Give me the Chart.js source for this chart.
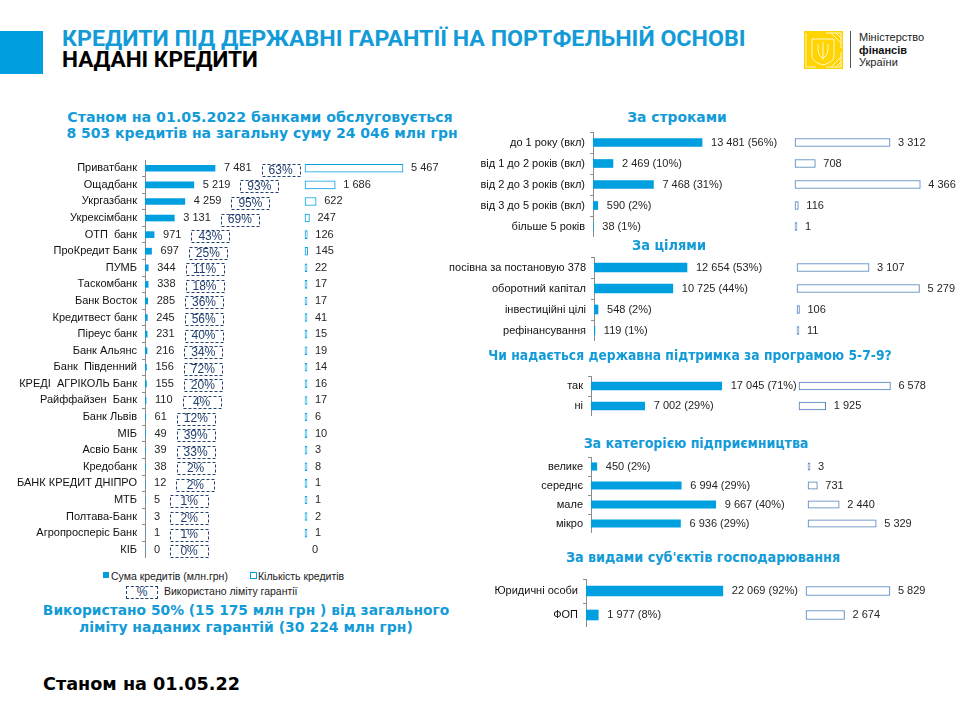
<!DOCTYPE html>
<html lang="uk">
<head>
<meta charset="utf-8">
<title>Кредити під державні гарантії на портфельній основі</title>
<script src="https://cdn.jsdelivr.net/npm/chart.js@4.4.1/dist/chart.umd.min.js"></script>
<style>
  html, body { margin: 0; padding: 0; background: #fff; }
  body { width: 968px; height: 726px; position: relative; overflow: hidden; font-family: "Liberation Sans", Arial, sans-serif; }
  .box { position: absolute; }
  .t { position: absolute; white-space: nowrap; line-height: 1; transform: translate(-50%, -50%); }
  .tl { position: absolute; white-space: nowrap; line-height: 1; transform: translateY(-50%); transform-origin: left center; }
  .h { font-family: "DejaVu Sans", sans-serif; font-weight: bold; color: #139BD8; font-size: 14px; }
  .lg { font-size: 10.5px; color: #1a1a1a; }
</style>
</head>
<body>

<div class="box" style="left:0;top:31px;width:43px;height:43px;background:#009FE0"></div>
<div class="tl" data-w="683" style="left:62px;top:39px;font-family:Roboto;font-weight:bold;font-size:22px;color:#139BD8">КРЕДИТИ ПІД ДЕРЖАВНІ ГАРАНТІЇ НА ПОРТФЕЛЬНІЙ ОСНОВІ</div>
<div class="tl" data-w="196" style="left:62px;top:60px;font-family:Roboto;font-weight:bold;font-size:22px;color:#000">НАДАНІ КРЕДИТИ</div>

<svg class="box" style="left:804px;top:31px" width="39" height="38" viewBox="0 0 39 38">
  <rect width="39" height="38" fill="#FFD400"/>
  <g stroke="#fff" stroke-width="0.8" fill="none">
    <path d="M22 2 L37 2 L37 17"/><path d="M27 2 L37 12"/><path d="M32 2 L37 7"/>
    <path d="M37 21 L37 36 L22 36"/><path d="M37 26 L27 36"/><path d="M37 31 L32 36"/>
    <path d="M2 2 L2 36 L12 36"/>
    <path d="M8 8 L30 8 L30 25 Q30 31 19 34 Q8 31 8 25 Z"/>
    <path d="M19 11 L19 29 M14 13 Q13 25 19 27 Q25 25 24 13"/>
  </g>
</svg>
<div class="box" style="left:850px;top:31px;width:1px;height:37px;background:#555"></div>
<div class="tl" style="left:859px;top:37px;font-size:11px;color:#222">Міністерство</div>
<div class="tl" style="left:859px;top:50px;font-size:11px;font-weight:bold;color:#111">фінансів</div>
<div class="tl" style="left:859px;top:62px;font-size:11px;color:#222">України</div>

<div class="t h" data-w="385" style="left:260px;top:117px">Станом на 01.05.2022 банками обслуговується</div>
<div class="t h" data-w="391" style="left:262px;top:133px">8 503 кредитів на загальну суму 24 046 млн грн</div>

<div class="box" id="pBanks"><canvas></canvas></div>

<div class="box" style="left:103px;top:572px;width:6px;height:6px;background:#009FE0"></div>
<div class="tl lg" style="left:111px;top:576px">Сума кредитів (млн.грн)</div>
<div class="box" style="left:250px;top:572px;width:5px;height:5px;border:1px solid #009FE0"></div>
<div class="tl lg" style="left:258px;top:576px">Кількість кредитів</div>
<div class="box" style="left:126px;top:586px;width:30px;height:11px;border:1px dashed #24406E"></div>
<div class="t" style="left:142px;top:592px;font-size:12px;color:#24406E">%</div>
<div class="tl lg" style="left:164px;top:591px">Використано ліміту гарантії</div>

<div class="t h" data-w="406" style="left:246px;top:610px;font-size:14.5px">Використано 50% (15 175 млн грн ) від загального</div>
<div class="t h" data-w="334" style="left:246px;top:627px;font-size:14.5px">ліміту наданих гарантій (30 224 млн грн)</div>

<div class="tl" data-w="197" style="left:43px;top:684px;font-family:'DejaVu Sans';font-weight:bold;font-size:17px;color:#000">Станом на 01.05.22</div>

<div class="t h" data-w="100" style="left:677px;top:117px">За строками</div>
<div class="box" id="pTerm"><canvas></canvas></div>
<div class="t h" data-w="74" style="left:669px;top:245px">За цілями</div>
<div class="box" id="pGoal"><canvas></canvas></div>
<div class="t h" data-w="403" style="left:690px;top:355px">Чи надається державна підтримка за програмою 5-7-9?</div>
<div class="box" id="pProg"><canvas></canvas></div>
<div class="t h" data-w="225" style="left:696px;top:443px">За категорією підприємництва</div>
<div class="box" id="pCat"><canvas></canvas></div>
<div class="t h" data-w="274" style="left:703px;top:557px">За видами суб'єктів господарювання</div>
<div class="box" id="pType"><canvas></canvas></div>

<script>
// банки
const banks = ['Приватбанк', 'Ощадбанк', 'Укргазбанк', 'Укрексімбанк', 'ОТП  банк', 'ПроКредит Банк', 'ПУМБ',
  'Таскомбанк', 'Банк Восток', 'Кредитвест банк', 'Піреус банк', 'Банк Альянс', 'Банк  Південний',
  'КРЕДІ  АГРІКОЛЬ Банк', 'Райффайзен  Банк', 'Банк Львів', 'МІБ', 'Асвіо Банк', 'Кредобанк',
  'БАНК КРЕДИТ ДНІПРО', 'МТБ', 'Полтава-Банк', 'Агропросперіс Банк', 'КІБ'];
const bankAmount = [7481, 5219, 4259, 3131, 971, 697, 344, 338, 285, 245, 231, 216, 156, 155, 110, 61, 49, 39, 38, 12, 5, 3, 1, 0];
const bankCount = [5467, 1686, 622, 247, 126, 145, 22, 17, 17, 41, 15, 19, 14, 16, 17, 6, 10, 3, 8, 1, 1, 2, 1, 0];
const bankLimitUsed = [63, 93, 95, 69, 43, 25, 11, 18, 36, 56, 40, 34, 72, 20, 4, 12, 39, 33, 2, 2, 1, 2, 1, 0];

// за строками
const termLabels = ['до 1 року (вкл)', 'від 1 до 2 років (вкл)', 'від 2 до 3 років (вкл)', 'від 3 до 5 років (вкл)', 'більше 5 років'];
const termAmount = [13481, 2469, 7468, 590, 38];
const termShare = [56, 10, 31, 2, 1];
const termCount = [3312, 708, 4366, 116, 1];

// за цілями
const goalLabels = ['посівна за постановую 378', 'оборотний капітал', 'інвестиційні цілі', 'рефінансування'];
const goalAmount = [12654, 10725, 548, 119];
const goalShare = [53, 44, 2, 1];
const goalCount = [3107, 5279, 106, 11];

// програма 5-7-9
const progLabels = ['так', 'ні'];
const progAmount = [17045, 7002];
const progShare = [71, 29];
const progCount = [6578, 1925];

// категорія підприємництва
const catLabels = ['велике', 'середнє', 'мале', 'мікро'];
const catAmount = [450, 6994, 9667, 6936];
const catShare = [2, 29, 40, 29];
const catCount = [3, 731, 2440, 5329];

// види суб'єктів
const typeLabels = ['Юридичні особи', 'ФОП'];
const typeAmount = [22069, 1977];
const typeShare = [92, 8];
const typeCount = [5829, 2674];

const BLUE = '#009FE0';
const NAVY = '#24406E';
const fmt = v => String(v).replace(/\B(?=(\d{3})+(?!\d))/g, ' ');

// fit headings to the widths in the picture
document.querySelectorAll('[data-w]').forEach(el => {
  const k = +el.dataset.w / el.offsetWidth;
  const base = el.classList.contains('tl') ? 'translateY(-50%)' : 'translate(-50%, -50%)';
  el.style.transform = base + ' scaleX(' + k.toFixed(3) + ')';
});

// value labels + dashed "limit used" boxes
const barLabels = {
  id: 'barLabels',
  afterDatasetsDraw(chart, args, o) {
    const ctx = chart.ctx;
    const am = chart.getDatasetMeta(0).data;
    const cn = chart.getDatasetMeta(1).data;
    const font = o.size + 'px "Liberation Sans", Arial, sans-serif';
    ctx.save();
    ctx.textBaseline = 'middle';
    am.forEach((bar, i) => {
      const t = o.amountText(i);
      ctx.font = font;
      ctx.fillStyle = '#262626';
      ctx.textAlign = 'left';
      ctx.fillText(t, bar.x + 9, bar.y);
      if (o.pct) {
        const bx = bar.x + 9 + ctx.measureText(t).width + 10;
        const by = bar.y + 1.5;
        ctx.strokeStyle = NAVY;
        ctx.lineWidth = 1;
        ctx.setLineDash([3, 2]);
        ctx.strokeRect(Math.round(bx) + 0.5, Math.round(by - 6) + 0.5, 38, 12);
        ctx.setLineDash([]);
        ctx.font = '12px "Liberation Sans", Arial, sans-serif';
        ctx.fillStyle = NAVY;
        ctx.textAlign = 'center';
        ctx.fillText(o.pct[i] + '%', bx + 19, by + 0.5);
      }
    });
    ctx.font = font;
    ctx.fillStyle = '#262626';
    ctx.textAlign = 'left';
    cn.forEach((bar, i) => {
      ctx.fillText(fmt(chart.data.datasets[1].data[i]), bar.x + 8, bar.y);
    });
    ctx.restore();
  }
};

function panel(id, p) {
  const box = document.getElementById(id);
  box.style.left = p.left + 'px';
  box.style.top = p.top + 'px';
  box.style.width = (p.right - p.left) + 'px';
  box.style.height = p.height + 'px';
  const w = p.right - p.axis;
  new Chart(box.querySelector('canvas'), {
    type: 'bar',
    data: {
      labels: p.labels,
      datasets: [
        { label: 'Сума кредитів (млн.грн)', data: p.amount, xAxisID: 'xa', grouped: false,
          backgroundColor: BLUE, barThickness: p.bar[0] },
        { label: 'Кількість кредитів', data: p.count, xAxisID: 'xc', grouped: false,
          backgroundColor: '#fff', borderColor: c => c.raw ? p.outline : 'rgba(0,0,0,0)',
          borderWidth: 1, borderSkipped: false, minBarLength: 2, barThickness: p.bar[1] }
      ]
    },
    options: {
      indexAxis: 'y',
      responsive: true,
      maintainAspectRatio: false,
      animation: false,
      layout: { padding: 0 },
      scales: {
        y: {
          afterFit: s => { s.width = p.axis - p.left; s.paddingTop = 0; s.paddingBottom = 0; },
          grid: { drawOnChartArea: false, tickLength: 3, color: '#8c8c8c', offset: true },
          border: { color: '#8c8c8c' },
          ticks: { padding: 5, color: '#111', font: { family: 'Liberation Sans', size: p.font } }
        },
        xa: { type: 'linear', display: false, min: 0, max: w / p.ka },
        xc: { type: 'linear', display: false, min: -(p.cStart - p.axis) / p.kc, max: (p.right - p.cStart) / p.kc }
      },
      plugins: {
        legend: { display: false },
        tooltip: { enabled: false },
        barLabels: { size: p.font, amountText: p.amountText, pct: p.pct }
      }
    },
    plugins: [barLabels]
  });
}

const share = (a, s) => i => fmt(a[i]) + ' (' + s[i] + '%)';

panel('pBanks', { labels: banks, amount: bankAmount, count: bankCount, pct: bankLimitUsed,
  amountText: i => fmt(bankAmount[i]),
  left: 0, top: 160, height: 398, axis: 145, right: 470, ka: 0.00936, cStart: 305, kc: 0.01793,
  bar: [6, 8], font: 11, outline: BLUE });

panel('pTerm', { labels: termLabels, amount: termAmount, count: termCount, amountText: share(termAmount, termShare),
  left: 440, top: 131.5, height: 105, axis: 593, right: 968, ka: 0.00809, cStart: 795, kc: 0.0287,
  bar: [8, 8], font: 11, outline: '#4A7EBB' });

panel('pGoal', { labels: goalLabels, amount: goalAmount, count: goalCount, amountText: share(goalAmount, goalShare),
  left: 440, top: 256.5, height: 84, axis: 594, right: 968, ka: 0.00735, cStart: 797, kc: 0.0232,
  bar: [9, 8], font: 11, outline: '#4A7EBB' });

panel('pProg', { labels: progLabels, amount: progAmount, count: progCount, amountText: share(progAmount, progShare),
  left: 440, top: 376, height: 40, axis: 591, right: 968, ka: 0.00767, cStart: 799, kc: 0.0139,
  bar: [8, 8], font: 11, outline: '#4A7EBB' });

panel('pCat', { labels: catLabels, amount: catAmount, count: catCount, amountText: share(catAmount, catShare),
  left: 440, top: 456.5, height: 76, axis: 591, right: 968, ka: 0.0129, cStart: 808, kc: 0.0128,
  bar: [7.5, 7.5], font: 11, outline: '#4A7EBB' });

panel('pType', { labels: typeLabels, amount: typeAmount, count: typeCount, amountText: share(typeAmount, typeShare),
  left: 440, top: 579, height: 48, axis: 586, right: 968, ka: 0.0062, cStart: 806, kc: 0.0144,
  bar: [10, 9], font: 11, outline: '#4A7EBB' });
</script>
</body>
</html>
